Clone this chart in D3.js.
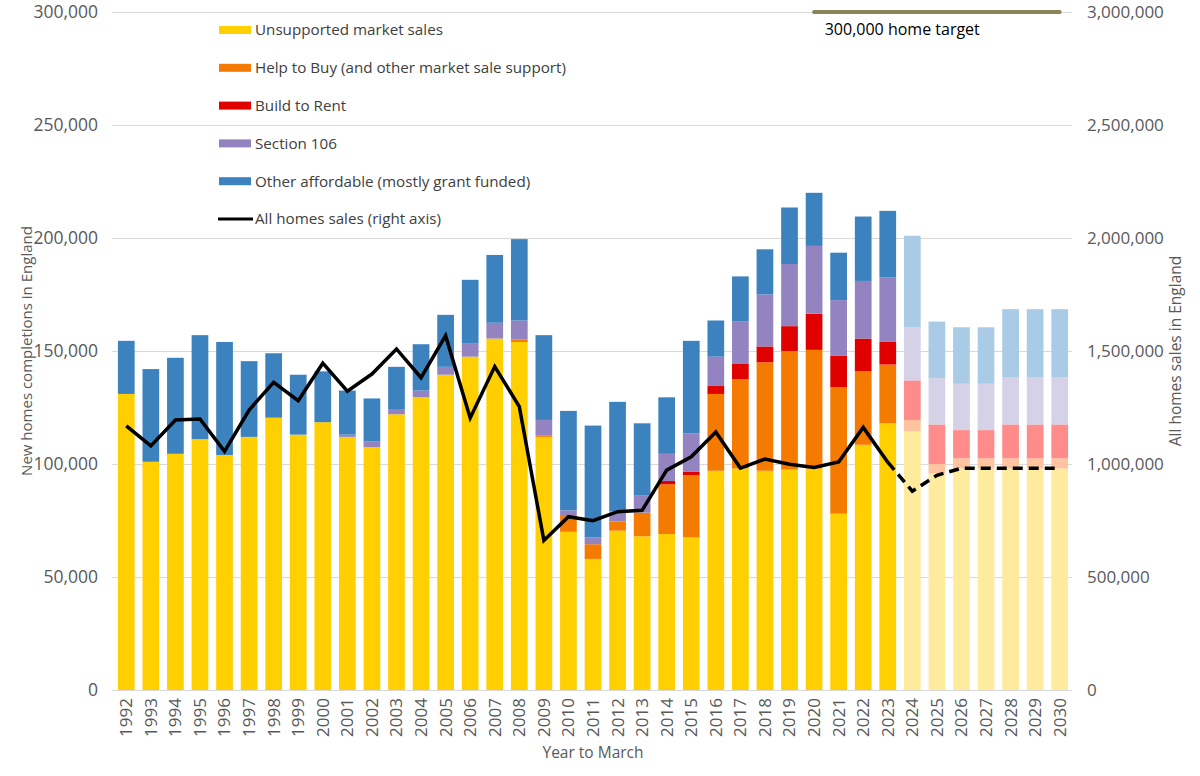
<!DOCTYPE html>
<html>
<head>
<meta charset="utf-8">
<script src="https://cdn.jsdelivr.net/npm/d3@7"></script>
<style>
  body { margin: 0; background: #fff; }
  svg { font-family: "Open Sans", sans-serif; }
</style>
</head>
<body>
<svg id="chart" width="1200" height="776"></svg>
<script>
// values in thousands of homes
var years = [1992,1993,1994,1995,1996,1997,1998,1999,2000,2001,2002,2003,2004,2005,2006,2007,2008,2009,2010,
  2011,2012,2013,2014,2015,2016,2017,2018,2019,2020,2021,2022,2023,2024,2025,2026,2027,2028,2029,2030];
var unsupported = [131,101,104.5,111,104,112,120.5,113,118.5,112,107.5,122,129.5,139.5,147.5,155.5,154,112,70,
  58,70.5,68,69,67.5,97,98,97,97.5,98,78,108.5,118,114.5,96,98,98,98,98,98];
var helpToBuy = [0,0,0,0,0,0,0,0,0,0,0,0,0,0,0,0,1,0.5,7,
  6.5,4,10.5,22,27.5,34,39.5,48,52.5,52.5,56,32.5,26,5,4,4.5,4.5,4.5,4.5,4.5];
var buildToRent = [0,0,0,0,0,0,0,0,0,0,0,0,0,0,0,0,0,0,0,
  0,0,0,1.5,1.5,3.5,7,7,11,16,14,14.5,10,17.5,17.5,12.5,12.5,15,15,15];
var section106 = [0,0,0,0,0,0,0,0,0,1,2.5,2,3,3.5,6,7,8.5,7,2.5,
  3,4.5,7.5,12,17,13,18.5,23,27.5,30,24.5,25.5,28.5,23.5,20.5,20.5,20.5,21,21,21];
var otherAffordable = [23.5,41,42.5,46,50,33.5,28.5,26.5,22.5,19.5,19,19,20.5,23,28,30,36,37.5,44,
  49.5,48.5,32,25,41,16,20,20,25,23.5,21,28.5,29.5,40.5,25,25,25,30,30,30];
// all home sales (right axis), thousands
var sales = [1169,1080,1195,1199,1056,1239,1361,1280,1446,1322,1398,1509,1382,1568,1204,1431,1254,662,767,
  749,789,795,973,1032,1142,982,1022,999,985,1009,1162,1008,880,950,981,981,981,981,981];
var firstForecast = 2024;
var targetYears = [2020, 2030];
var targetValue = 300;

var leftTicks = [0,50,100,150,200,250,300];
var rightTicks = [0,500,1000,1500,2000,2500,3000];

var keys = ["unsupported","helpToBuy","buildToRent","section106","otherAffordable"];
var labels = ["Unsupported market sales","Help to Buy (and other market sale support)","Build to Rent","Section 106","Other affordable (mostly grant funded)"];
var colours = ["#FFCF00","#F57A00","#E00000","#9384C1","#3B82BF"];
var lightColours = ["#FFEB9E","#FFC39F","#FF8B8B","#D5D1E7","#A9CBE6"];

var rows = years.map(function(y, i) {
  return {year: y, unsupported: unsupported[i], helpToBuy: helpToBuy[i], buildToRent: buildToRent[i],
    section106: section106[i], otherAffordable: otherAffordable[i], sales: sales[i]};
});

var svg = d3.select("#chart");
var plotTop = 12, plotBottom = 690, plotLeft = 114, plotRight = 1072;

var x = d3.scaleBand().domain(years).range([plotLeft, plotRight]).paddingInner(0.32).paddingOuter(0.16);
var y = d3.scaleLinear().domain([0, 300]).range([plotBottom, plotTop]);
var y2 = d3.scaleLinear().domain([0, 3000]).range([plotBottom, plotTop]);
var fmt = function(v) { return d3.format(",")(v * 1000); };

// gridlines
svg.append("g").selectAll("line")
    .data(leftTicks)
  .enter().append("line")
    .attr("x1", plotLeft - 2).attr("x2", plotRight)
    .attr("y1", function(d) { return Math.round(y(d)) + 0.5; })
    .attr("y2", function(d) { return Math.round(y(d)) + 0.5; })
    .attr("stroke", "#D9D9D9").attr("stroke-width", 1.2);

// stacked bars
var series = d3.stack().keys(keys)(rows);
svg.append("g").selectAll("g")
    .data(series)
  .enter().append("g")
    .each(function(s, k) {
      d3.select(this).selectAll("rect")
          .data(s.filter(function(d) { return d[1] > d[0]; }))
        .enter().append("rect")
          .attr("x", function(d) { return x(d.data.year); })
          .attr("width", x.bandwidth())
          .attr("y", function(d) { return y(d[1]); })
          .attr("height", function(d) { return y(d[0]) - y(d[1]); })
          .attr("fill", function(d) { return d.data.year >= firstForecast ? lightColours[k] : colours[k]; });
    });

// sales line, solid then dashed for forecast
var cx = function(d) { return x(d.year) + x.bandwidth() / 2; };
var line = d3.line().x(cx).y(function(d) { return y2(d.sales); });
var cut = years.indexOf(firstForecast) - 1;
svg.append("path")
    .datum(rows.slice(0, cut + 1))
    .attr("d", line)
    .attr("fill", "none").attr("stroke", "#000").attr("stroke-width", 3.5)
    .attr("stroke-linejoin", "miter");
svg.append("path")
    .datum(rows.slice(cut))
    .attr("d", line)
    .attr("fill", "none").attr("stroke", "#000").attr("stroke-width", 3.5)
    .attr("stroke-dasharray", "10,6");

// target line
svg.append("line")
    .attr("x1", x(targetYears[0]) + x.bandwidth() / 2)
    .attr("x2", x(targetYears[1]) + x.bandwidth() / 2)
    .attr("y1", y(targetValue)).attr("y2", y(targetValue))
    .attr("stroke", "#8C8458").attr("stroke-width", 4).attr("stroke-linecap", "round");
svg.append("text")
    .attr("x", x(targetYears[0]) + 19).attr("y", 35)
    .attr("font-size", 16).attr("fill", "#000")
    .text("300,000 home target");

// left axis labels
svg.append("g").selectAll("text")
    .data(leftTicks)
  .enter().append("text")
    .attr("x", 98).attr("y", function(d) { return y(d); }).attr("dy", "0.35em")
    .attr("text-anchor", "end").attr("font-size", 17.5).attr("fill", "#595959")
    .text(function(d) { return fmt(d); });

// right axis labels
svg.append("g").selectAll("text")
    .data(rightTicks)
  .enter().append("text")
    .attr("x", 1087).attr("y", function(d) { return y2(d); }).attr("dy", "0.35em")
    .attr("font-size", 17).attr("fill", "#595959")
    .text(function(d) { return fmt(d); });

// year labels
svg.append("g").selectAll("text")
    .data(years)
  .enter().append("text")
    .attr("transform", function(d) { return "translate(" + (x(d) + x.bandwidth() / 2) + ",698) rotate(-90)"; })
    .attr("dy", "0.35em").attr("text-anchor", "end")
    .attr("font-size", 17).attr("fill", "#595959")
    .text(function(d) { return d; });

// axis titles
svg.append("text")
    .attr("transform", "translate(32," + ((plotTop + plotBottom) / 2) + ") rotate(-90)")
    .attr("text-anchor", "middle").attr("font-size", 15).attr("fill", "#595959")
    .text("New homes completions in England");
svg.append("text")
    .attr("transform", "translate(1181," + ((plotTop + plotBottom) / 2) + ") rotate(-90)")
    .attr("text-anchor", "middle").attr("font-size", 15.5).attr("fill", "#595959")
    .text("All homes sales in England");
svg.append("text")
    .attr("x", 593).attr("y", 758)
    .attr("text-anchor", "middle").attr("font-size", 15.5).attr("fill", "#595959")
    .text("Year to March");

// legend
var legend = svg.append("g").attr("transform", "translate(219,30)");
var item = legend.selectAll("g")
    .data(labels)
  .enter().append("g")
    .attr("transform", function(d, i) { return "translate(0," + (i * 37.8) + ")"; });
item.append("rect")
    .attr("x", 0).attr("y", -4).attr("width", 32).attr("height", 8)
    .attr("fill", function(d, i) { return colours[i]; });
item.append("text")
    .attr("x", 36).attr("dy", "0.35em")
    .attr("font-size", 15.2).attr("fill", "#404040")
    .text(function(d) { return d; });
var lineItem = legend.append("g").attr("transform", "translate(0," + (5 * 37.8) + ")");
lineItem.append("line")
    .attr("x1", -1).attr("x2", 34).attr("y1", 0).attr("y2", 0)
    .attr("stroke", "#000").attr("stroke-width", 3);
lineItem.append("text")
    .attr("x", 36).attr("dy", "0.35em")
    .attr("font-size", 15.2).attr("fill", "#404040")
    .text("All homes sales (right axis)");
</script>
</body>
</html>
